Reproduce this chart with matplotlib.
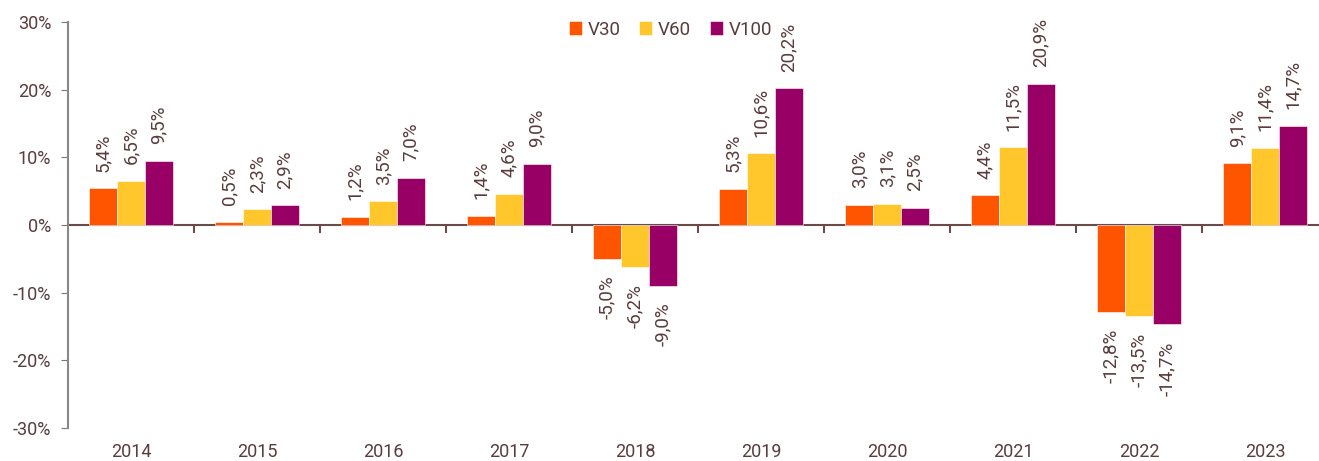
import numpy as np
import matplotlib.pyplot as plt

# data
years = ["2014", "2015", "2016", "2017", "2018", "2019", "2020", "2021", "2022", "2023"]
v30 = [5.4, 0.5, 1.2, 1.4, -5.0, 5.3, 3.0, 4.4, -12.8, 9.1]
v60 = [6.5, 2.3, 3.5, 4.6, -6.2, 10.6, 3.1, 11.5, -13.5, 11.4]
v100 = [9.5, 2.9, 7.0, 9.0, -9.0, 20.2, 2.5, 20.9, -14.7, 14.7]
series = [("V30", v30, "#FF5500"), ("V60", v60, "#FFC72C"), ("V100", v100, "#990066")]

txt = "#5a3c3c"
plt.rcParams["font.family"] = ["Roboto", "DejaVu Sans"]

fig = plt.figure(figsize=(13.19, 4.61), dpi=100)
# plot area runs a bit past the right edge, like the original export
ax = fig.add_axes([68 / 1319, 1 - 428 / 461, 1260 / 1319, 406 / 461])

x = np.arange(len(years))
w = 0.222
for k, (name, vals, col) in enumerate(series):
    pos = x + (k - 1) * w
    bars = ax.bar(pos, vals, w, color=col, label=name, edgecolor="white", linewidth=0.4)
    for b, v in zip(bars, vals):
        lab = f"{v:.1f}%".replace(".", ",")
        if v >= 0:
            ax.annotate(lab, (b.get_x() + w / 2, v), xytext=(0, 12), textcoords="offset points",
                        rotation=90, ha="center", va="bottom", fontsize=13.5, color=txt)
        else:
            ax.annotate(lab, (b.get_x() + w / 2, v), xytext=(0, -12), textcoords="offset points",
                        rotation=90, ha="center", va="top", fontsize=13.5, color=txt)

ax.set_xlim(-0.5, len(years) - 0.5)
ax.set_ylim(-30, 30)
ax.set_yticks(np.arange(-30, 31, 10))
ax.set_yticklabels([f"{t}%" for t in range(-30, 31, 10)])
ax.set_xticks(x)
ax.set_xticklabels(years)
ax.tick_params(axis="x", length=0, labelsize=13, labelcolor=txt, pad=11)
ax.tick_params(axis="y", length=5, color="#777777", labelsize=13, labelcolor=txt, pad=7)

for s in ["top", "right", "bottom"]:
    ax.spines[s].set_visible(False)
ax.spines["left"].set_color("#888888")
ax.spines["left"].set_linewidth(1.5)

# zero line with group separators
sec = ax.secondary_xaxis(0.5)
sec.set_alignment("bottom")
sec.set_xticks(np.arange(0.5, len(years) - 0.5, 1))
sec.tick_params(axis="x", direction="out", length=6, width=1.5, color="#6b4a4a",
                labelbottom=False, labeltop=False)
sec.spines["bottom"].set_color("#6b4a4a")
sec.spines["bottom"].set_linewidth(1.5)

ax.legend(loc="upper center", bbox_to_anchor=(0.478, 1.045), ncol=3, frameon=False,
          fontsize=13.5, labelcolor=txt, handlelength=0.7, handleheight=0.7,
          handletextpad=0.3, columnspacing=1.0)

fig.savefig("out.png", dpi=100)
